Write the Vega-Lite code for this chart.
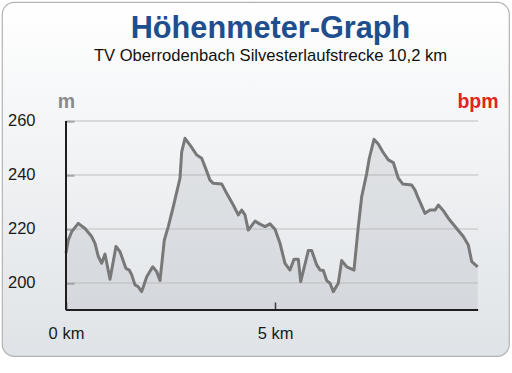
{
  "$schema": "https://vega.github.io/schema/vega-lite/v6.json",
  "width": 507,
  "height": 354,
  "autosize": {"type": "none"},
  "padding": {"left": 2, "top": 2, "right": 3, "bottom": 17},
  "background": "white",
  "config": {
    "font": "Liberation Sans",
    "view": {
      "fill": {"gradient": "linear", "x1": 0, "y1": 0, "x2": 0, "y2": 1, "stops": [{"offset": 0, "color": "#ffffff"}, {"offset": 1, "color": "#dfe3e7"}]},
      "stroke": "#b3b3b3",
      "strokeWidth": 1.2,
      "cornerRadius": 12
    },
    "axis": {"labelFont": "Liberation Sans", "titleFont": "Liberation Sans"}
  },
  "title": {
    "text": "Höhenmeter-Graph",
    "subtitle": "TV Oberrodenbach Silvesterlaufstrecke 10,2 km",
    "anchor": "middle",
    "frame": "group",
    "offset": -64,
    "dx": 15,
    "fontSize": 30.7,
    "fontWeight": "bold",
    "color": "#1f4e8e",
    "font": "Liberation Sans",
    "subtitleFont": "Liberation Sans",
    "subtitleFontSize": 16.6,
    "subtitleColor": "#111111",
    "subtitlePadding": 4
  },
  "datasets": {
    "profile": [
      {"km": 0, "m": 211}, {"km": 0.055, "m": 215.9}, {"km": 0.136, "m": 219}, {"km": 0.294, "m": 222.1},
      {"km": 0.455, "m": 220.2}, {"km": 0.615, "m": 217.2}, {"km": 0.694, "m": 214.7}, {"km": 0.773, "m": 209.8},
      {"km": 0.854, "m": 207.3}, {"km": 0.933, "m": 210.7}, {"km": 1.053, "m": 201.4}, {"km": 1.196, "m": 213.5},
      {"km": 1.292, "m": 211.6}, {"km": 1.435, "m": 205.4}, {"km": 1.514, "m": 204.8}, {"km": 1.572, "m": 203},
      {"km": 1.651, "m": 199.3}, {"km": 1.73, "m": 198.6}, {"km": 1.811, "m": 196.8}, {"km": 1.931, "m": 202.3},
      {"km": 2.074, "m": 206}, {"km": 2.17, "m": 204.2}, {"km": 2.249, "m": 200.9}, {"km": 2.352, "m": 215.9},
      {"km": 2.447, "m": 220.9}, {"km": 2.567, "m": 228.3}, {"km": 2.727, "m": 238.8}, {"km": 2.768, "m": 248.6},
      {"km": 2.847, "m": 253.6}, {"km": 2.967, "m": 251.1}, {"km": 3.045, "m": 249.3}, {"km": 3.127, "m": 247.4},
      {"km": 3.246, "m": 246.2}, {"km": 3.325, "m": 243.1}, {"km": 3.445, "m": 238.1}, {"km": 3.524, "m": 236.9},
      {"km": 3.725, "m": 236.7}, {"km": 3.844, "m": 233.2}, {"km": 4.002, "m": 228.9}, {"km": 4.122, "m": 225.2},
      {"km": 4.203, "m": 227}, {"km": 4.282, "m": 225.2}, {"km": 4.361, "m": 219.6}, {"km": 4.522, "m": 222.9},
      {"km": 4.641, "m": 221.8}, {"km": 4.761, "m": 220.9}, {"km": 4.88, "m": 221.9}, {"km": 5.0, "m": 219.9},
      {"km": 5.12, "m": 214.7}, {"km": 5.239, "m": 207.3}, {"km": 5.359, "m": 204.8}, {"km": 5.455, "m": 208.8},
      {"km": 5.557, "m": 208.8}, {"km": 5.615, "m": 200.5}, {"km": 5.797, "m": 212}, {"km": 5.878, "m": 212},
      {"km": 5.998, "m": 206.7}, {"km": 6.077, "m": 204.8}, {"km": 6.156, "m": 204.6}, {"km": 6.237, "m": 200.9},
      {"km": 6.316, "m": 199.9}, {"km": 6.395, "m": 196.8}, {"km": 6.514, "m": 199.9}, {"km": 6.596, "m": 208.3},
      {"km": 6.715, "m": 206}, {"km": 6.89, "m": 204.8}, {"km": 6.993, "m": 220.9}, {"km": 7.074, "m": 232},
      {"km": 7.194, "m": 240.6}, {"km": 7.256, "m": 246.2}, {"km": 7.368, "m": 253.2}, {"km": 7.471, "m": 251.5},
      {"km": 7.577, "m": 248.6}, {"km": 7.711, "m": 245.6}, {"km": 7.83, "m": 244.6}, {"km": 7.95, "m": 238.8},
      {"km": 8.055, "m": 236.7}, {"km": 8.27, "m": 236.3}, {"km": 8.349, "m": 234.4}, {"km": 8.428, "m": 231.4},
      {"km": 8.589, "m": 225.8}, {"km": 8.708, "m": 227}, {"km": 8.828, "m": 227}, {"km": 8.907, "m": 228.9},
      {"km": 9.026, "m": 226.8}, {"km": 9.146, "m": 224}, {"km": 9.347, "m": 220.2}, {"km": 9.505, "m": 217.2},
      {"km": 9.624, "m": 214.1}, {"km": 9.706, "m": 207.9}, {"km": 9.849, "m": 206}
    ],
    "grid": [{"m": 200}, {"m": 220}, {"m": 240}, {"m": 260}],
    "frame": [{"start_km": 0, "end_km": 9.86, "base_m": 190, "top_m": 260}]
  },
  "resolve": {"axis": {"y": "independent"}},
  "layer": [
    {
      "data": {"name": "grid"},
      "mark": {"type": "rule", "color": "#cfcfcf", "strokeWidth": 1.5},
      "encoding": {
        "y": {"field": "m", "type": "quantitative", "scale": {"domain": [172.96, 304.07], "nice": false, "zero": false},
          "axis": {"orient": "right", "labels": false, "ticks": false, "domain": false, "grid": false, "title": "bpm", "titleAngle": 0, "titleX": -31.5, "titleY": 105, "titleAlign": "center", "titleBaseline": "alphabetic", "titleFontWeight": "bold", "titleFontSize": 19.5, "titleColor": "#e3231f"}},
        "x": {"datum": 0, "type": "quantitative", "scale": {"domain": [-1.531, 10.598], "nice": false, "zero": false},
          "axis": {"values": [0, 5], "labelExpr": "datum.value + ' km'", "title": null, "domain": false, "grid": false, "offset": -46, "tickSize": -8, "tickColor": "#222222", "tickWidth": 1.5, "labelPadding": 23, "labelFontSize": 16.5, "labelColor": "#1a1a1a"}},
        "x2": {"datum": 9.86}
      }
    },
    {
      "data": {"name": "profile"},
      "mark": {"type": "area", "color": "#9aa0a8", "opacity": 0.2},
      "encoding": {
        "x": {"field": "km", "type": "quantitative", "scale": {"domain": [-1.531, 10.598], "nice": false, "zero": false},
          "axis": {"values": [0, 5], "labelExpr": "datum.value + ' km'", "title": null, "domain": false, "grid": false, "offset": -46, "tickSize": -8, "tickColor": "#222222", "tickWidth": 1.5, "labelPadding": 23, "labelFontSize": 16.5, "labelColor": "#1a1a1a"}},
        "y": {"field": "m", "type": "quantitative", "scale": {"domain": [172.96, 304.07], "nice": false, "zero": false},
          "axis": {"orient": "left", "values": [200, 220, 240, 260], "domain": false, "grid": false, "offset": -64, "tickSize": -8, "tickColor": "#222222", "tickWidth": 1.5, "labelPadding": 39, "labelFontSize": 16.5, "labelColor": "#1a1a1a", "title": "m", "titleAngle": 0, "titleX": 0, "titleY": 105, "titleAlign": "center", "titleBaseline": "alphabetic", "titleFontWeight": "bold", "titleFontSize": 19.5, "titleColor": "#8a8a8a"}},
        "y2": {"datum": 190}
      }
    },
    {
      "data": {"name": "profile"},
      "mark": {"type": "line", "color": "#787878", "strokeWidth": 3, "strokeJoin": "round"},
      "encoding": {
        "x": {"field": "km", "type": "quantitative", "scale": {"domain": [-1.531, 10.598], "nice": false, "zero": false},
          "axis": {"values": [0, 5], "labelExpr": "datum.value + ' km'", "title": null, "domain": false, "grid": false, "offset": -46, "tickSize": -8, "tickColor": "#222222", "tickWidth": 1.5, "labelPadding": 23, "labelFontSize": 16.5, "labelColor": "#1a1a1a"}},
        "y": {"field": "m", "type": "quantitative", "scale": {"domain": [172.96, 304.07], "nice": false, "zero": false}, "axis": null}
      }
    },
    {
      "data": {"name": "frame"},
      "mark": {"type": "rule", "color": "#1e1e1e", "strokeWidth": 2},
      "encoding": {
        "x": {"field": "start_km", "type": "quantitative", "scale": {"domain": [-1.531, 10.598], "nice": false, "zero": false},
          "axis": {"values": [0, 5], "labelExpr": "datum.value + ' km'", "title": null, "domain": false, "grid": false, "offset": -46, "tickSize": -8, "tickColor": "#222222", "tickWidth": 1.5, "labelPadding": 23, "labelFontSize": 16.5, "labelColor": "#1a1a1a"}},
        "y": {"field": "base_m", "type": "quantitative", "scale": {"domain": [172.96, 304.07], "nice": false, "zero": false}, "axis": null},
        "y2": {"field": "top_m"}
      }
    },
    {
      "data": {"name": "frame"},
      "mark": {"type": "rule", "color": "#1e1e1e", "strokeWidth": 2},
      "encoding": {
        "x": {"field": "start_km", "type": "quantitative", "scale": {"domain": [-1.531, 10.598], "nice": false, "zero": false},
          "axis": {"values": [0, 5], "labelExpr": "datum.value + ' km'", "title": null, "domain": false, "grid": false, "offset": -46, "tickSize": -8, "tickColor": "#222222", "tickWidth": 1.5, "labelPadding": 23, "labelFontSize": 16.5, "labelColor": "#1a1a1a"}},
        "x2": {"field": "end_km"},
        "y": {"field": "base_m", "type": "quantitative", "scale": {"domain": [172.96, 304.07], "nice": false, "zero": false}, "axis": null}
      }
    }
  ]
}
